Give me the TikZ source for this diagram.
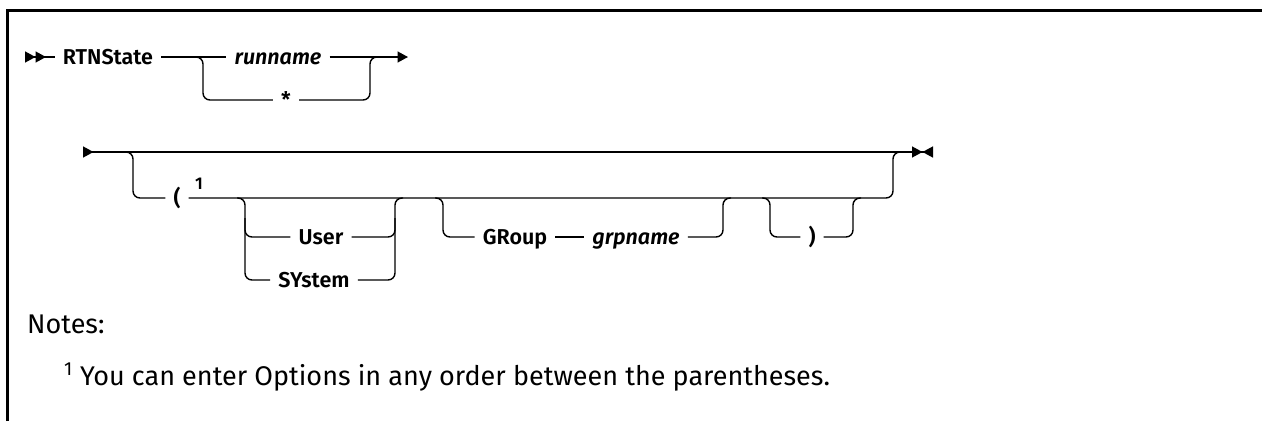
\documentclass[tikz,border=0pt]{standalone}
\usepackage{fontspec}
\setmainfont{Fira Sans}[BoldFont={Fira Sans SemiBold}, BoldItalicFont={Fira Sans SemiBold Italic}]
\usetikzlibrary{arrows.meta,calc}

\tikzset{
  tri/.tip={Triangle[length=10.5pt,width=11pt]},
  rail/.style={line width=1.4pt, rounded corners=7pt},
  kw/.style={font=\fontsize{21.5}{24}\selectfont\bfseries, inner xsep=8pt, inner ysep=0pt, text height=15pt, text depth=0pt},
  var/.style={kw, font=\fontsize{21.5}{24}\selectfont\bfseries\itshape},
  note/.style={font=\fontsize{27}{30}\selectfont, inner sep=0pt, anchor=base west},
}

\begin{document}
\begin{tikzpicture}[x=1pt, y=-1pt]
  \useasboundingbox (0,0) rectangle (1262,421);

  %% Frame
  \draw[line width=3pt] (7,421) -- (7,10) -- (1262,10);

  %% First line -- command and run name
  \node[kw]  (rtn)     at (108,57)  {RTNState};
  \node[var] (runname) at (278,57)  {runname};
  \node[kw]  (star)    at (286,100) {*};
  \coordinate (start1) at (25,57);
  \coordinate (end1)   at (408,57);
  \coordinate (j1)     at (203,57);
  \coordinate (k1)     at (370,57);

  \draw[rail, {tri[reversed]tri[reversed]}-] (start1) -- (rtn.west);
  \draw[rail] (rtn.east) -- (runname.west);
  \draw[rail, -{tri}] (runname.east) -- (end1);
  \draw[rail] (j1) ++(-8,0) -- (j1) |- (star.west);
  \draw[rail] (star.east) -| (k1) -- ++(8,0);

  %% Second line -- options in parentheses
  \node[kw]  (lp)      at (177,198) {(};
  \node[font=\fontsize{17}{18}\selectfont\bfseries, inner sep=0pt] (fn) at (199,184) {1};
  \node[kw]  (user)    at (321,237) {User};
  \node[kw]  (sys)     at (314,280) {SYstem};
  \node[kw]  (grp)     at (515,237) {GRoup};
  \node[var] (grpname) at (636,237) {grpname};
  \node[kw]  (rp)      at (812,237) {)};
  \coordinate (start2) at (83,152);
  \coordinate (end2)   at (933,152);
  \coordinate (j2) at (133,152);
  \coordinate (k2) at (893,152);
  \coordinate (j3) at (245,198);
  \coordinate (k3) at (395,198);
  \coordinate (j4) at (443,198);
  \coordinate (k4) at (723,198);
  \coordinate (j5) at (770,198);
  \coordinate (k5) at (853,198);

  \draw[rail, {tri[reversed]}-{tri[]tri[reversed]}] (start2) -- (end2);
  \draw[rail] (j2) ++(-8,0) -- (j2) |- (lp.west);
  \draw[rail] (lp.east) -| (k2) -- ++(8,0);

  % User / SYstem
  \draw[rail] (j3) ++(-8,0) -- (j3) |- (sys.west);
  \draw[rail] ([yshift=-20pt]j3) |- (user.west);
  \draw[rail] (sys.east) -| (k3) -- ++(8,0);
  \draw[rail] (user.east) -| ([yshift=-20pt]k3);

  % GRoup grpname
  \draw[rail] (j4) ++(-8,0) -- (j4) |- (grp.west);
  \draw[rail] (grp.east) -- (grpname.west);
  \draw[rail] (grpname.east) -| (k4) -- ++(8,0);

  % closing parenthesis
  \draw[rail] (j5) ++(-8,0) -- (j5) |- (rp.west);
  \draw[rail] (rp.east) -| (k5) -- ++(8,0);

  %% Notes
  \node[note] (notes) at (27,333) {Notes:};
  \node[note] (note1) at (64,385) {\textsuperscript{1} You can enter Options in any order between the parentheses.};
\end{tikzpicture}
\end{document}
